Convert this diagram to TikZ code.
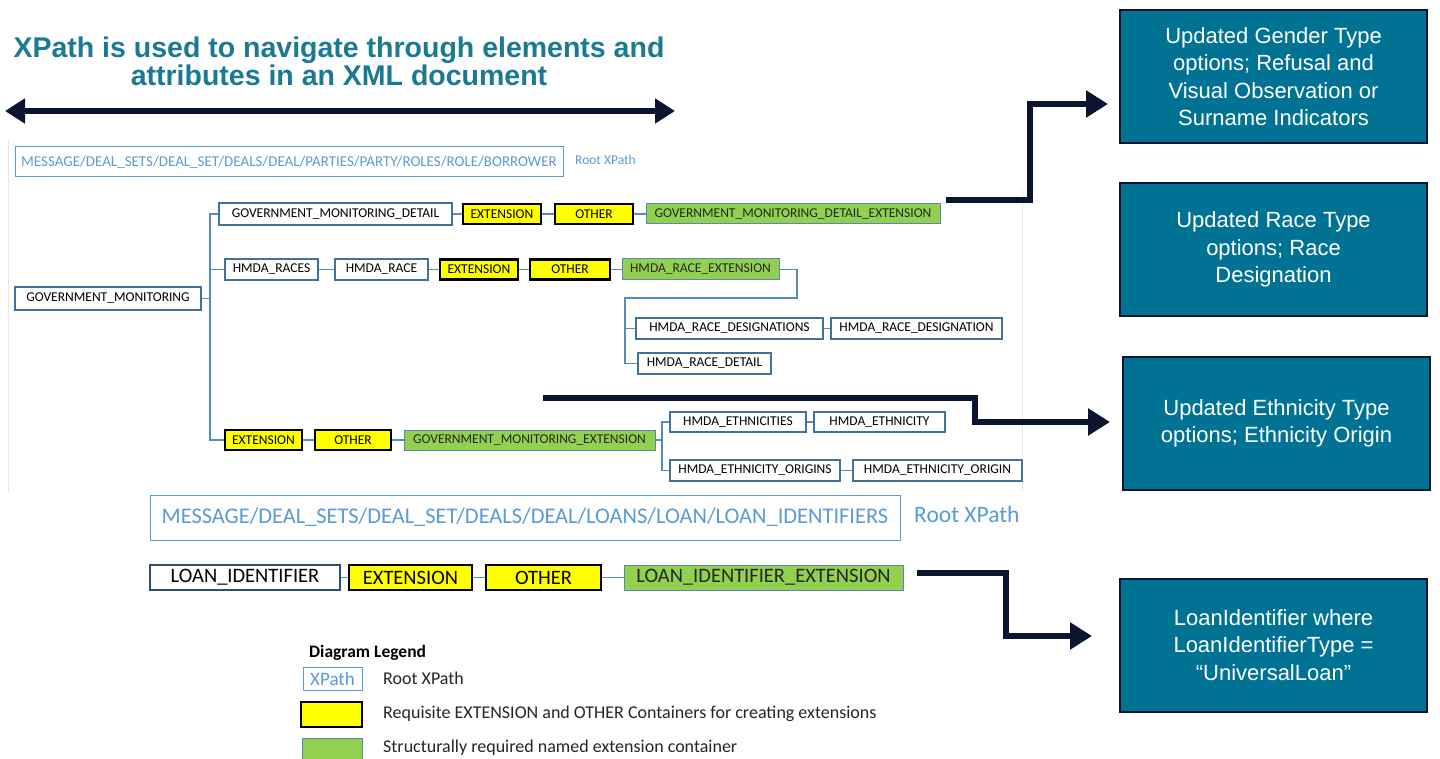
\documentclass[tikz,border=0pt]{standalone}
\usepackage{fontspec}
\setmainfont{Carlito}
\newfontfamily\arialf{Liberation Sans}
\newfontfamily\titlef{Liberation Sans}
\usetikzlibrary{arrows.meta,calc}
\definecolor{titleteal}{HTML}{1B7A93}
\definecolor{tealbox}{HTML}{007394}
\definecolor{navy}{HTML}{0B1530}
\definecolor{xpblue}{HTML}{5B9BD5}
\definecolor{nodeblue}{HTML}{41719C}
\definecolor{connblue}{HTML}{5A8AC0}
\definecolor{xgreen}{HTML}{92D050}
\definecolor{greenedge}{HTML}{5B88B5}
\definecolor{xyellow}{HTML}{FFFF00}
\definecolor{faint}{HTML}{E8E8E8}
\begin{document}
\begin{tikzpicture}[x=1pt,y=-1pt,
  wbox/.style={draw=nodeblue, line width=1.1pt, fill=white, inner sep=0pt, text=black, font=\fontsize{13.5}{15}\selectfont},
  ybox/.style={draw=black, line width=2.4pt, fill=xyellow, inner sep=0pt, text=black, font=\fontsize{13.5}{15}\selectfont},
  gbox/.style={draw=greenedge, line width=1pt, fill=xgreen, inner sep=0pt, text=black!85, font=\fontsize{13.5}{15}\selectfont},
  xpbox/.style={draw=xpblue, line width=1pt, fill=white, inner sep=0pt, text=xpblue},
  conn/.style={draw=connblue, line width=1.2pt},
  bigarrow/.style={draw=navy, line width=6pt, -{Triangle[length=22pt,width=26pt]}},
  tealnode/.style={fill=tealbox, draw=navy, line width=2pt, text=white, inner sep=0pt, minimum width=307, minimum height=133, font=\arialf\fontsize{22}{27.5}\selectfont, align=center},
  lbl/.style={inner sep=0pt, anchor=west}
]
\useasboundingbox (0,0) rectangle (1440,759);
\fill[white] (0,0) rectangle (1440,759);

% faint frame of the embedded picture
\draw[faint, line width=0.8pt] (8,140) -- (8,492);
\draw[faint, line width=0.8pt] (1022,190) -- (1022,492);

% title
\node[text=titleteal, font=\titlef\bfseries\fontsize{28.5}{28}\selectfont, align=center] (title) at (339,61)
  {XPath is used to navigate through elements and\\attributes in an XML document};
\coordinate (dal) at (5,111);
\coordinate (dar) at (675,111);
\draw[navy, line width=6pt, {Triangle[length=20pt,width=24pt]}-{Triangle[length=20pt,width=24pt]}] (dal) -- (dar);

% root xpath 1
\node[xpbox, minimum width=548, minimum height=30, font=\fontsize{15}{17}\selectfont] (xp1) at (289,162)
  {MESSAGE/DEAL\_SETS/DEAL\_SET/DEALS/DEAL/PARTIES/PARTY/ROLES/ROLE/BORROWER};
\node[lbl, text=xpblue, font=\fontsize{13.5}{16}\selectfont] (rx1) at (575,160) {Root XPath};

% tree
\node[wbox, minimum width=186, minimum height=23] (gm) at (108,298.5) {GOVERNMENT\_MONITORING};
\node[wbox, minimum width=233, minimum height=22] (gmd) at (335.5,214) {GOVERNMENT\_MONITORING\_DETAIL};
\node[ybox, minimum width=78, minimum height=20] (ext1) at (502,214) {EXTENSION};
\node[ybox, minimum width=78, minimum height=20] (oth1) at (594,214) {OTHER};
\node[gbox, minimum width=294, minimum height=20] (gmde) at (793,214) {GOVERNMENT\_MONITORING\_DETAIL\_EXTENSION};

\node[wbox, minimum width=93, minimum height=21] (races) at (271.5,269.5) {HMDA\_RACES};
\node[wbox, minimum width=93, minimum height=21] (race) at (381.5,269.5) {HMDA\_RACE};
\node[ybox, minimum width=78, minimum height=20] (ext2) at (479,269.5) {EXTENSION};
\node[ybox, minimum width=80, minimum height=20] (oth2) at (570,269.5) {OTHER};
\node[gbox, minimum width=157, minimum height=21] (hre) at (700.5,269.5) {HMDA\_RACE\_EXTENSION};

\node[wbox, minimum width=187, minimum height=21] (hrds) at (729.5,328.5) {HMDA\_RACE\_DESIGNATIONS};
\node[wbox, minimum width=171, minimum height=21] (hrd) at (916.5,328.5) {HMDA\_RACE\_DESIGNATION};
\node[wbox, minimum width=133, minimum height=21] (hrdet) at (704.5,363.5) {HMDA\_RACE\_DETAIL};

\node[ybox, minimum width=77, minimum height=20] (ext3) at (263.5,440) {EXTENSION};
\node[ybox, minimum width=76, minimum height=20] (oth3) at (353,440) {OTHER};
\node[gbox, minimum width=251, minimum height=20] (gme) at (529.5,440) {GOVERNMENT\_MONITORING\_EXTENSION};

\node[wbox, minimum width=136, minimum height=20] (heths) at (738,422) {HMDA\_ETHNICITIES};
\node[wbox, minimum width=131, minimum height=20] (heth) at (879.5,422) {HMDA\_ETHNICITY};
\node[wbox, minimum width=170, minimum height=21] (heos) at (755,470.5) {HMDA\_ETHNICITY\_ORIGINS};
\node[wbox, minimum width=169, minimum height=21] (heo) at (937.5,470.5) {HMDA\_ETHNICITY\_ORIGIN};

% tree connectors
\coordinate (trk) at (210,440);
\draw[conn] (gm.east) -- (gm.east -| trk);
\draw[conn] (gmd.west) -| (trk) -- (ext3.west);
\draw[conn] (races.west) -- (races.west -| trk);
\draw[conn] (gmd) -- (ext1);
\draw[conn] (ext1) -- (oth1);
\draw[conn] (oth1) -- (gmde);
\draw[conn] (races) -- (race);
\draw[conn] (race) -- (ext2);
\draw[conn] (ext2) -- (oth2);
\draw[conn] (oth2) -- (hre);
\coordinate (hk1) at (797,298);
\coordinate (hk2) at (625,298);
\draw[conn] (hre.east) -| (hk1) -- (hk2) |- (hrdet.west);
\draw[conn] (hrds.west) -- (hrds.west -| hk2);
\draw[conn] (hrds) -- (hrd);
\draw[conn] (ext3) -- (oth3);
\draw[conn] (oth3) -- (gme);
\coordinate (ek) at (662,440);
\draw[conn] (gme.east) -- (ek);
\draw[conn] (heths.west) -| (ek) |- (heos.west);
\draw[conn] (heths) -- (heth);
\draw[conn] (heos) -- (heo);

% root xpath 2
\node[xpbox, minimum width=750, minimum height=45, font=\fontsize{22.4}{24}\selectfont] (xp2) at (525,517.5)
  {MESSAGE/DEAL\_SETS/DEAL\_SET/DEALS/DEAL/LOANS/LOAN/LOAN\_IDENTIFIERS};
\node[lbl, text=xpblue, font=\fontsize{23.5}{25}\selectfont] (rx2) at (914,514) {Root XPath};

% loan row
\node[wbox, draw=nodeblue!70!black, minimum width=190, minimum height=25, font=\fontsize{20.5}{22}\selectfont] (li) at (245,577.5) {LOAN\_IDENTIFIER};
\node[ybox, line width=2.8pt, minimum width=123, minimum height=25, font=\fontsize{20.5}{22}\selectfont] (ext4) at (410.5,577.5) {EXTENSION};
\node[ybox, line width=2.8pt, minimum width=115, minimum height=25, font=\fontsize{20.5}{22}\selectfont] (oth4) at (543.5,577.5) {OTHER};
\node[gbox, minimum width=279, minimum height=25, font=\fontsize{20.5}{22}\selectfont] (lie) at (763.5,577.5) {LOAN\_IDENTIFIER\_EXTENSION};
\draw[conn] (li) -- (ext4);
\draw[conn] (ext4) -- (oth4);
\draw[conn] (oth4) -- (lie);

% legend
\node[lbl, font=\bfseries\fontsize{17.5}{19}\selectfont] (lgt) at (309,653) {Diagram Legend};
\node[xpbox, minimum width=59, minimum height=23, font=\fontsize{19}{21}\selectfont] (lgx) at (332.5,678.5) {XPath};
\node[lbl, font=\fontsize{18}{20}\selectfont, text=black!85] (lgxt) at (383,678) {Root XPath};
\node[ybox, line width=2.8pt, minimum width=61, minimum height=25] (lgy) at (331.5,714.5) {};
\node[lbl, font=\fontsize{18}{20}\selectfont, text=black!85] (lgyt) at (383,714) {Requisite EXTENSION and OTHER Containers for creating extensions};
\node[gbox, minimum width=60, minimum height=24] (lgg) at (332,750) {};
\node[lbl, font=\fontsize{18}{20}\selectfont, text=black!85] (lggt) at (383,748) {Structurally required named extension container};

% teal boxes
\node[tealnode] (t1) at (1273.5,76.5) {Updated Gender Type\\options; Refusal and\\Visual Observation or\\Surname Indicators};
\node[tealnode] (t2) at (1273.5,249.5) {Updated Race Type\\options; Race\\Designation};
\node[tealnode] (t3) at (1276.5,423.5) {Updated Ethnicity Type\\options; Ethnicity Origin};
\node[tealnode] (t4) at (1273.5,645) {LoanIdentifier where\\LoanIdentifierType =\\“UniversalLoan”};

% big arrows
\coordinate (a1s) at (946,200);
\coordinate (a1k) at (1030,104);
\coordinate (a1e) at (1108,104);
\draw[bigarrow] (a1s) -| (a1k) -- (a1e);
\coordinate (a2s) at (543,398);
\coordinate (a2k) at (975,422);
\coordinate (a2e) at (1110,422);
\draw[bigarrow] (a2s) -| (a2k) -- (a2e);
\coordinate (a3s) at (917,573);
\coordinate (a3k) at (1006,636);
\coordinate (a3e) at (1092,636);
\draw[bigarrow] (a3s) -| (a3k) -- (a3e);
\end{tikzpicture}
\end{document}
